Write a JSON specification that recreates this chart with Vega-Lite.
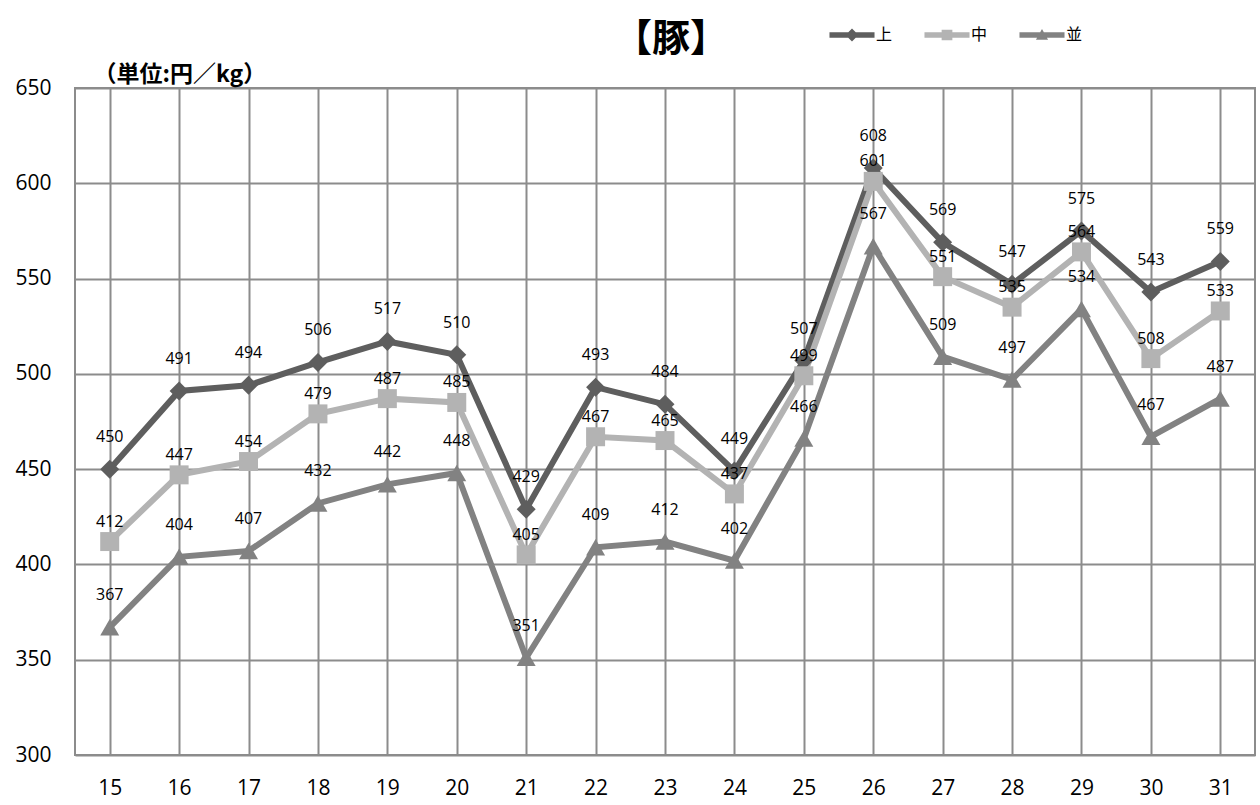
{
  "$schema": "https://vega.github.io/schema/vega-lite/v6.json",
  "width": 1180,
  "height": 667,
  "autosize": {"type": "none"},
  "padding": {"left": 75, "top": 88, "right": 5, "bottom": 50},
  "background": "white",
  "title": {"text": "【豚】", "anchor": "middle", "dx": 6, "dy": 33, "fontSize": 38, "font": "Noto Sans CJK JP", "fontWeight": "bold", "color": "#000000", "offset": 0},
  "config": {
    "view": {"stroke": "#8c8c8c", "strokeWidth": 2},
    "font": "Open Sans",
    "legend": {"orient": "none", "title": null, "symbolSize": 300, "labelOffset": 15, "labelFontSize": 16, "labelFont": "Noto Sans CJK JP", "labelColor": "#000000", "symbolStrokeWidth": 0, "symbolOpacity": 1}
  },
  "data": {"values": [
    {"x": "15", "s": "上", "v": 450}, {"x": "16", "s": "上", "v": 491}, {"x": "17", "s": "上", "v": 494}, {"x": "18", "s": "上", "v": 506}, {"x": "19", "s": "上", "v": 517}, {"x": "20", "s": "上", "v": 510}, {"x": "21", "s": "上", "v": 429}, {"x": "22", "s": "上", "v": 493}, {"x": "23", "s": "上", "v": 484}, {"x": "24", "s": "上", "v": 449}, {"x": "25", "s": "上", "v": 507}, {"x": "26", "s": "上", "v": 608}, {"x": "27", "s": "上", "v": 569}, {"x": "28", "s": "上", "v": 547}, {"x": "29", "s": "上", "v": 575}, {"x": "30", "s": "上", "v": 543}, {"x": "31", "s": "上", "v": 559},
    {"x": "15", "s": "中", "v": 412}, {"x": "16", "s": "中", "v": 447}, {"x": "17", "s": "中", "v": 454}, {"x": "18", "s": "中", "v": 479}, {"x": "19", "s": "中", "v": 487}, {"x": "20", "s": "中", "v": 485}, {"x": "21", "s": "中", "v": 405}, {"x": "22", "s": "中", "v": 467}, {"x": "23", "s": "中", "v": 465}, {"x": "24", "s": "中", "v": 437}, {"x": "25", "s": "中", "v": 499}, {"x": "26", "s": "中", "v": 601}, {"x": "27", "s": "中", "v": 551}, {"x": "28", "s": "中", "v": 535}, {"x": "29", "s": "中", "v": 564}, {"x": "30", "s": "中", "v": 508}, {"x": "31", "s": "中", "v": 533},
    {"x": "15", "s": "並", "v": 367}, {"x": "16", "s": "並", "v": 404}, {"x": "17", "s": "並", "v": 407}, {"x": "18", "s": "並", "v": 432}, {"x": "19", "s": "並", "v": 442}, {"x": "20", "s": "並", "v": 448}, {"x": "21", "s": "並", "v": 351}, {"x": "22", "s": "並", "v": 409}, {"x": "23", "s": "並", "v": 412}, {"x": "24", "s": "並", "v": 402}, {"x": "25", "s": "並", "v": 466}, {"x": "26", "s": "並", "v": 567}, {"x": "27", "s": "並", "v": 509}, {"x": "28", "s": "並", "v": 497}, {"x": "29", "s": "並", "v": 534}, {"x": "30", "s": "並", "v": 467}, {"x": "31", "s": "並", "v": 487}
  ]},
  "encoding": {
    "x": {"field": "x", "type": "nominal", "sort": null,
      "scale": {"paddingInner": 0, "paddingOuter": 0},
      "axis": {"title": null, "labelAngle": 0, "labelFontSize": 21, "labelColor": "#000000", "labelPadding": 22, "ticks": false, "domain": false, "grid": true, "gridColor": "#8c8c8c", "gridWidth": 2, "bandPosition": 0}},
    "y": {"field": "v", "type": "quantitative",
      "scale": {"domain": [300, 650], "nice": false, "zero": false},
      "axis": {"values": [300, 350, 400, 450, 500, 550, 600, 650], "labelFontSize": 21, "labelColor": "#000000", "labelPadding": 24, "ticks": false, "domain": false, "grid": true, "gridColor": "#8c8c8c", "gridWidth": 2,
        "title": "（単位:円／kg）", "titleAngle": 0, "titleX": 18, "titleY": -14, "titleAlign": "left", "titleBaseline": "middle", "titleFont": "Noto Sans CJK JP", "titleFontSize": 23, "titleFontWeight": "bold", "titleColor": "#000000"}},
    "color": {"field": "s", "type": "nominal",
      "scale": {"domain": ["上", "中", "並"], "range": ["#5e5e5e", "#b3b3b3", "#828282"]}, "legend": null}
  },
  "layer": [
    {"mark": {"type": "line", "strokeWidth": 6}, "encoding": {"detail": {"field": "s"}}},
    {"mark": {"type": "point", "filled": true, "opacity": 1, "size": 360},
      "encoding": {"shape": {"field": "s", "type": "nominal", "scale": {"domain": ["上", "中", "並"], "range": ["diamond", "square", "triangle-up"]}, "legend": null}}},
    {"transform": [{"filter": "datum.s == '上'"}], "mark": {"type": "text", "dy": -32, "fontSize": 16, "color": "#000000"}, "encoding": {"text": {"field": "v", "type": "quantitative"}, "color": {"value": "#000000"}}},
    {"transform": [{"filter": "datum.s == '中'"}], "mark": {"type": "text", "dy": -20, "fontSize": 16, "color": "#000000"}, "encoding": {"text": {"field": "v", "type": "quantitative"}, "color": {"value": "#000000"}}},
    {"transform": [{"filter": "datum.s == '並'"}], "mark": {"type": "text", "dy": -32, "fontSize": 16, "color": "#000000"}, "encoding": {"text": {"field": "v", "type": "quantitative"}, "color": {"value": "#000000"}}},
    {"transform": [{"filter": "datum.v < 0"}],
      "mark": {"type": "point", "filled": true},
      "encoding": {
        "shape": {"field": "s", "type": "nominal",
          "scale": {"domain": ["上"], "range": ["M-2.6,-0.33H2.6V0.33H-2.6Z M0,-0.75L0.75,0L0,0.75L-0.75,0Z"]},
          "legend": {"legendX": 768, "legendY": -62, "symbolFillColor": "#5e5e5e"}}
      }},
    {"transform": [{"filter": "datum.v < 0"}],
      "mark": {"type": "point", "filled": true},
      "encoding": {
        "shape": {"field": "s", "type": "nominal",
          "scale": {"domain": ["中"], "range": ["M-2.6,-0.33H2.6V0.33H-2.6Z M-0.62,-0.62H0.62V0.62H-0.62Z"]},
          "legend": {"legendX": 863, "legendY": -62, "symbolFillColor": "#b3b3b3"}}
      }},
    {"transform": [{"filter": "datum.v < 0"}],
      "mark": {"type": "point", "filled": true},
      "encoding": {
        "shape": {"field": "s", "type": "nominal",
          "scale": {"domain": ["並"], "range": ["M-2.6,-0.33H2.6V0.33H-2.6Z M0,-0.7L0.7,0.55H-0.7Z"]},
          "legend": {"legendX": 958, "legendY": -62, "symbolFillColor": "#828282"}}
      }}
  ],
  "resolve": {"scale": {"shape": "independent"}, "legend": {"shape": "independent"}}
}
